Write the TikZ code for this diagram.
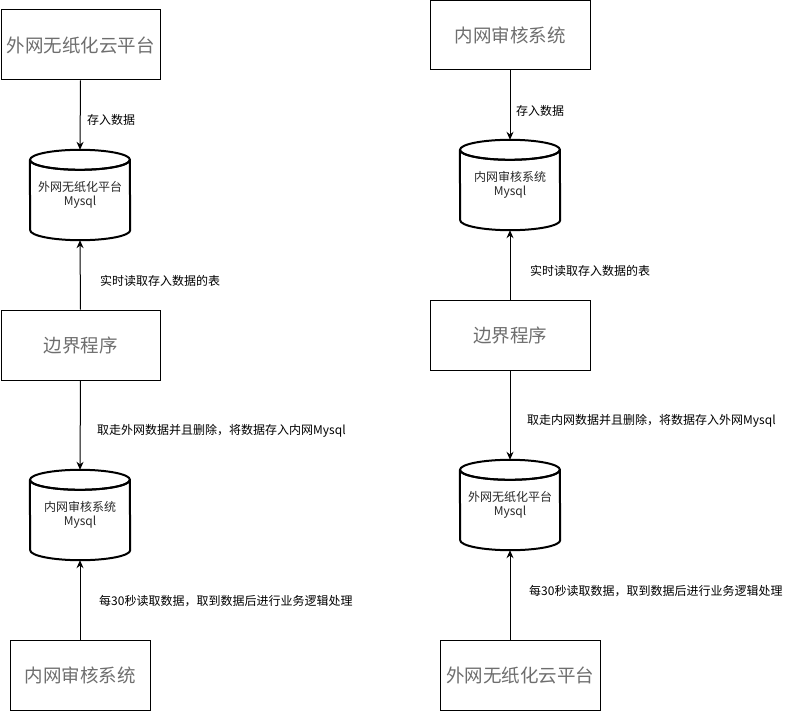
\documentclass[tikz,border=0pt]{standalone}
\usepackage{fontspec}
\setmainfont{Noto Sans CJK SC}
\usetikzlibrary{arrows.meta}
\definecolor{boxgray}{RGB}{110,110,110}
\definecolor{dbtext}{RGB}{40,40,40}
\newcommand{\dbdraw}[1]{%
  \draw[dbline] ([yshift=-10pt]#1.north west) arc[start angle=180, end angle=360, x radius=50pt, y radius=10pt]
     -- ([yshift=10pt]#1.south east) arc[start angle=0, end angle=-180, x radius=50pt, y radius=10pt] -- cycle;
  \draw[dbline] ([yshift=-10pt]#1.north) ellipse [x radius=50pt, y radius=10pt];}
\begin{document}
\begin{tikzpicture}[x=1pt,y=-1pt,
  box/.style={draw=black, line width=1pt, rectangle, inner sep=0pt, minimum height=70pt,
    font=\fontsize{18.5}{20}\selectfont, text=boxgray},
  db/.style={rectangle, inner sep=0pt, minimum width=100pt, minimum height=90pt,
    font=\fontsize{12}{14.5}\selectfont, align=center, text=dbtext},
  lab/.style={anchor=west, inner sep=0pt, font=\fontsize{12}{14}\selectfont},
  arr/.style={line width=1pt, -{Stealth[length=8pt,width=7pt]}},
  dbline/.style={line width=2pt, line join=round}]
\useasboundingbox (0,0) rectangle (791,711);
% left column
\node[box, minimum width=159pt] (L1) at (80.5,45) {外网无纸化云平台};
\node[db] (LD1) at (80,195) {外网无纸化平台\\Mysql};
\node[box, minimum width=159pt] (L2) at (80.5,345) {边界程序};
\node[db] (LD2) at (80,515) {内网审核系统\\Mysql};
\node[box, minimum width=140pt] (L3) at (80,675) {内网审核系统};
\dbdraw{LD1}
\dbdraw{LD2}
\draw[arr] (L1.south) -- (LD1.north);
\draw[arr] (L2.north) -- (LD1.south);
\draw[arr] (L2.south) -- (LD2.north);
\draw[arr] (L3.north) -- (LD2.south);
\node[lab] (l1) at (87,120) {存入数据};
\node[lab] (l2) at (100,281) {实时读取存入数据的表};
\node[lab] (l3) at (97,431) {取走外网数据并且删除，将数据存入内网Mysql};
\node[lab] (l4) at (99,601) {每30秒读取数据，取到数据后进行业务逻辑处理};
% right column
\node[box, minimum width=160pt, minimum height=69pt] (R1) at (510,35.5) {内网审核系统};
\node[db] (RD1) at (510,185) {内网审核系统\\Mysql};
\node[box, minimum width=160pt] (R2) at (510,335) {边界程序};
\node[db] (RD2) at (510,505) {外网无纸化平台\\Mysql};
\node[box, minimum width=160pt] (R3) at (520,675) {外网无纸化云平台};
\dbdraw{RD1}
\dbdraw{RD2}
\draw[arr] (R1.south) -- (RD1.north);
\draw[arr] (R2.north) -- (RD1.south);
\draw[arr] (R2.south) -- (RD2.north);
\draw[arr] (RD2.south |- R3.north) -- (RD2.south);
\node[lab] (r1) at (516,111) {存入数据};
\node[lab] (r2) at (530,271) {实时读取存入数据的表};
\node[lab] (r3) at (527,421) {取走内网数据并且删除，将数据存入外网Mysql};
\node[lab] (r4) at (529,591) {每30秒读取数据，取到数据后进行业务逻辑处理};
\end{tikzpicture}
\end{document}
